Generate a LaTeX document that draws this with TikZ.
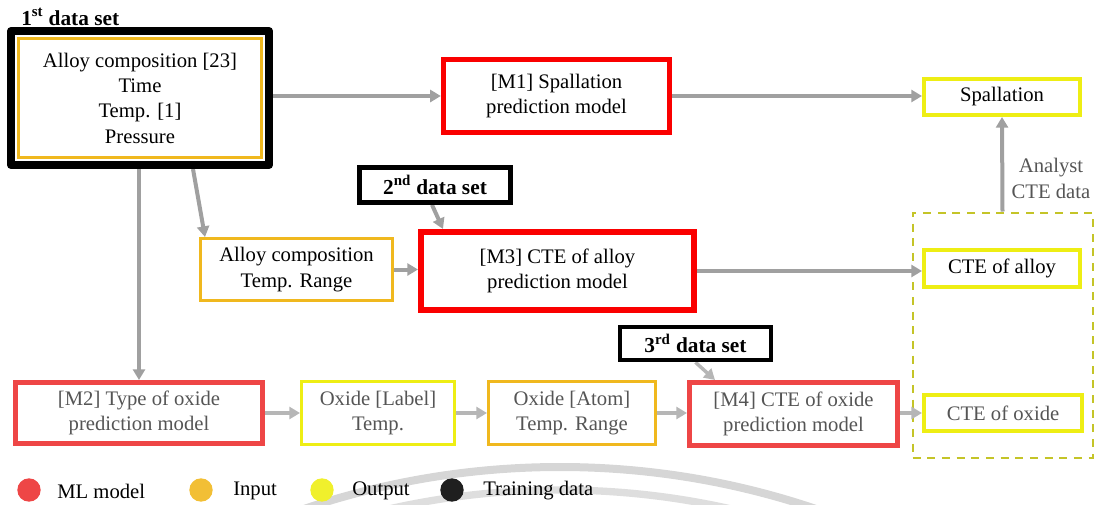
\documentclass[tikz,border=0pt]{standalone}
\usepackage{fontspec}
\setmainfont{Liberation Serif}
\usetikzlibrary{arrows.meta,calc,fit}
\pgfdeclarelayer{bg}
\pgfsetlayers{bg,main}
\definecolor{mlred}{RGB}{250,0,0}
\definecolor{mlpale}{RGB}{238,70,70}
\definecolor{inorange}{RGB}{240,184,30}
\definecolor{outyellow}{RGB}{238,238,20}
\definecolor{grpolive}{RGB}{196,196,40}
\definecolor{linkgray}{RGB}{160,160,160}
\definecolor{linkpale}{RGB}{182,182,182}
\definecolor{dimtext}{RGB}{85,85,85}
\tikzset{
  sz/.style 2 args={minimum width=#1*0.75pt,minimum height=#2*0.75pt},
  box/.style={draw,fill=white,align=center,inner sep=0pt,font=\fontsize{15.5}{19}\selectfont},
  model/.style={box,draw=mlred,line width=4pt},
  palemodel/.style={box,draw=mlpale,line width=3.75pt,text=dimtext},
  inbox/.style={box,draw=inorange,line width=2.25pt},
  outbox/.style={box,draw=outyellow,line width=3pt},
  databox/.style={box,draw=black,line width=3.5pt,font=\fontsize{16}{19}\selectfont\bfseries},
  frame/.style={draw=black,line width=6pt,line join=round,inner sep=4.5pt},
  grpbox/.style={draw=grpolive,line width=1.5pt,dash pattern=on 6pt off 5pt},
  conn/.style={draw=linkgray,line width=3pt,-{Triangle[length=8pt,width=9pt]}},
  paleconn/.style={conn,draw=linkpale,line width=2.6pt},
  dot/.style={circle,inner sep=0pt,minimum size=17.5pt},
  legtext/.style={anchor=west,inner sep=0pt,font=\fontsize{15.5}{19}\selectfont}
}
\begin{document}
\begin{tikzpicture}[x=0.75pt,y=-0.75pt]
  \useasboundingbox (0,0) rectangle (1097,504);

  % faint rings behind the legend
  \begin{pgfonlayer}{bg}
    \begin{scope}
      \clip (0,0) rectangle (1097,504);
      \draw[color=black!16,line width=6pt] (560,1264) circle[radius=797];
      \draw[color=black!13,line width=5.5pt] (560,1264) circle[radius=774];
    \end{scope}
  \end{pgfonlayer}

  % first data set
  \node[anchor=west,inner sep=0pt,font=\fontsize{16}{19}\selectfont\bfseries] (t1) at (21,17) {1\textsuperscript{st} data set};
  \node[inbox,sz={243}{119}] (in1) at (140,98) {Alloy composition [23]\\Time\\Temp. [1]\\Pressure};
  \node[frame,fit=(in1)] (ds1) {};

  % models
  \node[model,sz={226}{73}] (m1) at (556.5,96) {[M1] Spallation\\prediction model};
  \node[model,line width=4.5pt,sz={273}{78}] (m3) at (557.5,271) {[M3] CTE of alloy\\prediction model};
  \node[palemodel,sz={247}{61}] (m2) at (139,413) {[M2] Type of oxide\\prediction model};
  \node[palemodel,sz={208}{63}] (m4) at (793.5,414) {[M4] CTE of oxide\\prediction model};

  % inputs and outputs
  \node[inbox,sz={192}{62}] (al) at (296.5,269.5) {Alloy composition\\Temp. Range};
  \node[outbox,text=dimtext,line width=2.25pt,sz={153}{63}] (ol) at (378,413) {Oxide [Label]\\Temp.};
  \node[inbox,text=dimtext,sz={167}{63}] (oa) at (572,413) {Oxide [Atom]\\Temp. Range};
  \node[outbox,sz={156}{36}] (sp) at (1002,97) {Spallation};
  \node[outbox,sz={156}{37}] (ca) at (1002,268.5) {CTE of alloy};
  \node[outbox,text=dimtext,sz={158}{36}] (co) at (1003,413) {CTE of oxide};
  \begin{pgfonlayer}{bg}
    \node[grpbox,sz={180}{245}] (grp) at (1002.5,335) {};
  \end{pgfonlayer}

  % other data sets
  \node[databox,sz={151}{35}] (ds2) at (435,185) {2\textsuperscript{nd} data set};
  \node[databox,sz={151}{33}] (ds3) at (695.5,343.5) {3\textsuperscript{rd} data set};

  % links
  \begin{pgfonlayer}{bg}
    \draw[conn] (ds1.east |- m1.west) -- (m1.west);
    \draw[conn] (m1.east) -- (m1.east -| sp.west);
    \draw[conn] (m2.north |- ds1.south) -- (m2.north);
    \draw[conn] ($(ds1.south)+(53,0)$) -- ($(al.north west)+(6,0)$);
    \draw[conn] (al.east) -- (al.east -| m3.west);
    \draw[conn] ($(ds2.south)+(-3,0)$) -- ($(m3.north west)+(25,0)$);
    \draw[conn] (m3.east) -- (m3.east -| ca.west);
    \draw[conn] (grp.north) -- (sp.south);
    \draw[paleconn] (ds3.south) -- ($(m4.north west)+(28,0)$);
    \draw[paleconn] (m2.east) -- (ol.west);
    \draw[paleconn] (ol.east) -- (oa.west);
    \draw[paleconn] (oa.east) -- (oa.east -| m4.west);
    \draw[paleconn] (m4.east |- co.west) -- (co.west);
  \end{pgfonlayer}
  \node[align=center,inner sep=0pt,text=dimtext,font=\fontsize{15.5}{19.5}\selectfont] (lab) at (1051,178) {Analyst\\CTE data};

  % legend
  \node[dot,fill=mlpale] (lg1) at (29,490) {};
  \node[legtext] (lt1) at (57,491) {ML model};
  \node[dot,fill=inorange!90] (lg2) at (201,490) {};
  \node[legtext] (lt2) at (233,491) {Input};
  \node[dot,fill=outyellow!90] (lg3) at (322,490) {};
  \node[legtext] (lt3) at (352,491) {Output};
  \node[dot,fill=black!88] (lg4) at (452,490) {};
  \node[legtext] (lt4) at (483,491) {Training data};
\end{tikzpicture}
\end{document}
